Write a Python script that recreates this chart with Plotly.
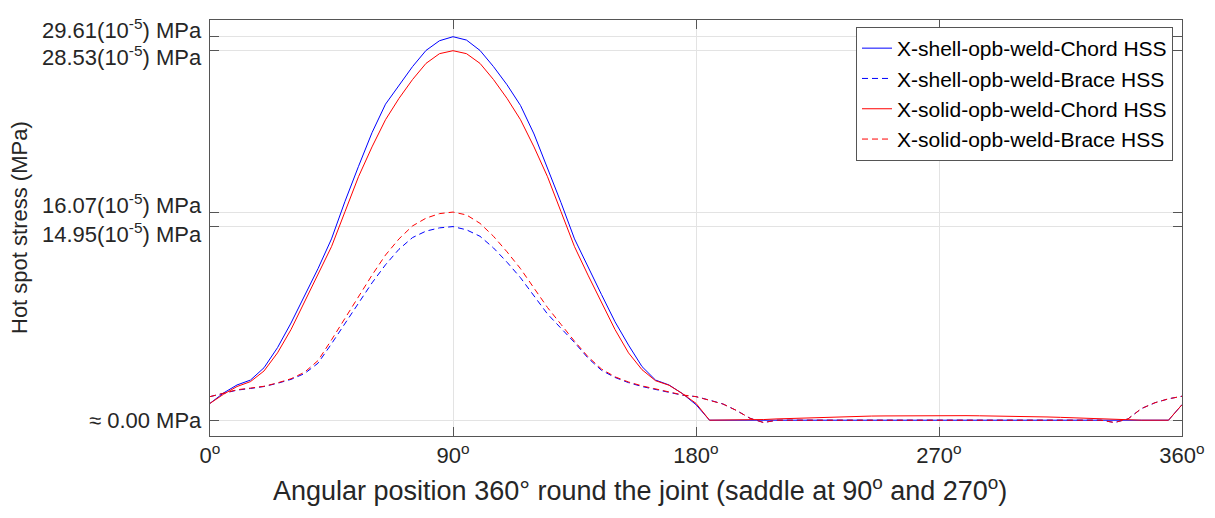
import plotly.graph_objects as go

angle_deg = [0, 5, 10, 15, 20, 25, 30, 35, 40, 45, 50, 55, 60, 65, 70, 75, 80, 85, 90,
             95, 100, 105, 110, 115, 120, 125, 130, 135, 140, 145, 150, 155, 160, 165, 170, 175, 180,
             185, 190, 195, 200, 205, 210, 215, 220, 225, 230, 235, 240, 245, 250, 255, 260, 265, 270,
             275, 280, 285, 290, 295, 300, 305, 310, 315, 320, 325, 330, 335, 340, 345, 350, 355, 360]

shell_chord = [1.30, 2.10, 2.72, 3.10, 4.05, 5.60, 7.50, 9.60, 11.70, 14.00, 16.90, 19.60, 22.20, 24.40, 25.90, 27.30, 28.55, 29.30, 29.61,
               29.35, 28.55, 27.30, 25.90, 24.30, 22.10, 19.50, 16.80, 14.00, 11.80, 9.70, 7.60, 5.80, 4.14, 3.10, 2.72, 2.05, 1.20,
               0, 0, 0, 0, 0, 0, 0, 0, 0, 0, 0, 0, 0, 0, 0, 0, 0, 0,
               0, 0, 0, 0, 0, 0, 0, 0, 0, 0, 0, 0, 0, 0, 0, 0, 0, 1.20]

shell_brace = [1.82, 2.08, 2.32, 2.45, 2.60, 2.85, 3.15, 3.60, 4.40, 5.90, 7.50, 9.05, 10.60, 12.00, 13.20, 14.10, 14.60, 14.85, 14.95,
               14.70, 14.20, 13.30, 12.20, 11.00, 9.60, 8.20, 7.10, 6.00, 4.80, 3.85, 3.30, 2.90, 2.60, 2.40, 2.15, 1.93, 1.82,
               1.55, 1.25, 0.75, 0.15, -0.18, 0, 0, 0, 0, 0, 0, 0, 0, 0, 0, 0, 0, 0,
               0, 0, 0, 0, 0, 0, 0, 0, 0, 0, 0, 0, -0.18, 0.10, 0.90, 1.35, 1.65, 1.85]

solid_chord = [1.30, 2.00, 2.60, 2.98, 3.80, 5.20, 7.00, 9.10, 11.20, 13.40, 16.10, 18.80, 21.10, 23.20, 24.85, 26.30, 27.55, 28.30, 28.53,
               28.30, 27.55, 26.30, 24.85, 23.20, 21.10, 18.80, 16.10, 13.40, 11.20, 9.10, 7.00, 5.20, 3.90, 3.05, 2.70, 2.05, 1.30,
               0, 0, 0, 0, 0.05, 0.10, 0.14, 0.18, 0.22, 0.25, 0.28, 0.30, 0.32, 0.33, 0.34, 0.35, 0.36, 0.36,
               0.36, 0.35, 0.34, 0.33, 0.32, 0.30, 0.28, 0.25, 0.22, 0.18, 0.14, 0.10, 0.05, 0, 0, 0, 0, 1.20]

solid_brace = [1.82, 2.10, 2.35, 2.48, 2.62, 2.88, 3.20, 3.70, 4.60, 6.20, 7.90, 9.55, 11.20, 12.75, 14.00, 15.00, 15.60, 15.95, 16.07,
               15.85, 15.20, 14.20, 13.00, 11.70, 10.20, 8.70, 7.40, 6.10, 4.90, 3.95, 3.35, 2.95, 2.65, 2.42, 2.18, 1.95, 1.82,
               1.55, 1.25, 0.75, 0.15, -0.18, 0, 0, 0, 0, 0, 0, 0, 0, 0, 0, 0, 0, 0,
               0, 0, 0, 0, 0, 0, 0, 0, 0, 0, 0, 0, -0.18, 0.10, 0.90, 1.35, 1.65, 1.85]

series_names = ["X-shell-opb-weld-Chord HSS", "X-shell-opb-weld-Brace HSS",
                "X-solid-opb-weld-Chord HSS", "X-solid-opb-weld-Brace HSS"]

x_tick_vals = [0, 90, 180, 270, 360]
x_tick_text = ["0<sup>o</sup>", "90<sup>o</sup>", "180<sup>o</sup>", "270<sup>o</sup>", "360<sup>o</sup>"]
y_tick_vals = [0, 14.95, 16.07, 28.53, 29.61]
y_tick_text = ["≈ 0.00 MPa", "14.95(10<sup>-5</sup>) MPa", "16.07(10<sup>-5</sup>) MPa",
               "28.53(10<sup>-5</sup>) MPa", "29.61(10<sup>-5</sup>) MPa"]
y_label_shift = [0, -6, 8, -5, 8]   # labels nudged apart so neighbours do not collide

x_title = "Angular position 360° round the joint (saddle at 90<sup>o</sup> and 270<sup>o</sup>)"
y_title = "Hot spot stress (MPa)"

FONT = "Arial, Liberation Sans, sans-serif"
TXT = "#262626"
fig = go.Figure()
styles = [("#0000ff", "solid"), ("#0000ff", "6px,4px"), ("#ff0000", "solid"), ("#ff0000", "6px,4px")]
for name, ys, (col, dash) in zip(series_names, [shell_chord, shell_brace, solid_chord, solid_brace], styles):
    fig.add_trace(go.Scatter(x=angle_deg, y=ys, mode="lines", name=name,
                             line=dict(color=col, width=1, dash=dash)))

axis_common = dict(showline=True, linecolor="#555555", linewidth=1, mirror="ticks",
                   ticks="inside", ticklen=9, tickcolor="#555555", automargin=False,
                   showgrid=True, gridcolor="#e3e3e3", gridwidth=1, zeroline=False,
                   tickfont=dict(size=22, color=TXT, family=FONT))

fig.update_xaxes(range=[0, 360], tickvals=x_tick_vals, ticktext=x_tick_text, **axis_common)
fig.update_yaxes(range=[-1.22, 30.9], tickvals=y_tick_vals, ticktext=[""] * len(y_tick_vals), **axis_common)

for v, t, s in zip(y_tick_vals, y_tick_text, y_label_shift):
    fig.add_annotation(xref="paper", yref="y", x=0, y=v, text=t, showarrow=False,
                       xanchor="right", yanchor="middle", xshift=-6, yshift=s,
                       font=dict(size=22, color=TXT, family=FONT))

fig.add_annotation(xref="paper", yref="paper", x=(640 - 210) / 972, y=(436 - 489) / 416,
                   text=x_title, showarrow=False, xanchor="center", yanchor="middle",
                   font=dict(size=27, color=TXT, family=FONT))
fig.add_annotation(xref="paper", yref="paper", x=(19 - 210) / 972, y=0.5,
                   text=y_title, showarrow=False, textangle=-90, xanchor="center", yanchor="middle",
                   font=dict(size=22, color=TXT, family=FONT))

# page body has an 8px margin: figure is 1199x502 placed at (8,8)
fig.update_layout(
    width=1199, height=502,
    margin=dict(l=202, r=25, t=12, b=74),
    plot_bgcolor="white", paper_bgcolor="white",
    font=dict(family=FONT, size=22, color=TXT),
    showlegend=True,
    legend=dict(x=(1173 - 210) / 972, y=(436 - 27) / 416, xanchor="right", yanchor="top",
                bgcolor="white", bordercolor="#555555", borderwidth=1,
                font=dict(size=21, color="#000000", family=FONT),
                tracegroupgap=0, itemwidth=30),
)

fig.write_html("out.html")
